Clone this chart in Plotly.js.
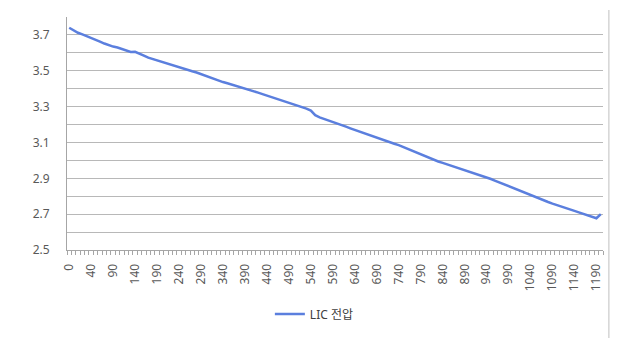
<!DOCTYPE html>
<html>
<head>
<meta charset="utf-8">
<script src="https://cdn.plot.ly/plotly-3.0.1.min.js"></script>
<style>html,body{margin:0;padding:0;background:#fff;}#chart{width:630px;height:338px;}</style>
</head>
<body>
<div id="chart"></div>
<script>
// Category tick labels (seconds), shown every 5th category
const tickLabels = ["0","40","90","140","190","240","290","340","390","440","490","540","590","640","690","740","790","840","890","940","990","1040","1090","1140","1190"];
// LIC voltage series (V), one value per category
const voltage = [
3.740,3.725,3.712,3.703,3.694,3.685,3.674,3.663,3.652,3.642,
3.635,3.630,3.622,3.612,3.605,3.606,3.597,3.585,3.573,3.565,
3.558,3.550,3.542,3.535,3.528,3.520,3.512,3.504,3.497,3.490,
3.481,3.470,3.460,3.452,3.445,3.437,3.430,3.423,3.416,3.410,
3.402,3.394,3.386,3.378,3.370,3.362,3.354,3.346,3.338,3.331,
3.324,3.316,3.307,3.298,3.289,3.278,3.252,3.240,3.232,3.224,
3.215,3.206,3.197,3.188,3.179,3.170,3.162,3.153,3.144,3.136,
3.127,3.118,3.109,3.100,3.093,3.085,3.075,3.064,3.053,3.042,
3.032,3.021,3.011,3.002,2.994,2.986,2.978,2.970,2.962,2.954,
2.947,2.940,2.932,2.924,2.915,2.906,2.896,2.886,2.876,2.866,
2.856,2.845,2.835,2.824,2.814,2.804,2.795,2.786,2.777,2.768,
2.759,2.750,2.741,2.733,2.726,2.718,2.710,2.701,2.692,2.684,
2.677,2.700];
const yTickVals = [2.5,2.6,2.7,2.8,2.9,3.0,3.1,3.2,3.3,3.4,3.5,3.6,3.7,3.8];
const yTickText = ["2.5","","2.7","","2.9","","3.1","","3.3","","3.5","","3.7",""];
const seriesName = "LIC 전압";

const xIdx = voltage.map((_, i) => i);
const labelEvery = 5;
const xTickVals = tickLabels.map((_, i) => i * labelEvery);

const trace = {
  x: xIdx, y: voltage, type: 'scatter', mode: 'lines', name: seriesName,
  line: {color: '#5b7fde', width: 2.5}
};
const font = "'Noto Sans', 'Noto Sans CJK KR', sans-serif";
const layout = {
  width: 630, height: 338,
  margin: {l: 67, r: 27, t: 17, b: 88},
  paper_bgcolor: '#fff', plot_bgcolor: '#fff',
  font: {family: font, size: 12, color: '#595959'},
  showlegend: true,
  legend: {orientation: 'h', xref: 'container', yref: 'container',
           x: 0.499, xanchor: 'center', y: 0.071, yanchor: 'middle',
           font: {family: font, size: 12, color: '#404040'}, itemwidth: 30},
  xaxis: {
    range: [-0.5, voltage.length - 0.5], showgrid: false, zeroline: false,
    automargin: false,
    tickmode: 'array', tickvals: xTickVals, ticktext: tickLabels, tickangle: -90,
    ticks: '', showline: true, linecolor: '#a6a6a6', linewidth: 1,
    ticklabelstandoff: 8,
    tickfont: {size: 12, color: '#595959'},
    minor: {tick0: -0.5, dtick: 1, ticks: 'outside', ticklen: 4, tickcolor: '#a6a6a6', tickwidth: 1, showgrid: false}
  },
  yaxis: {
    range: [2.5, 3.8], tickmode: 'array', tickvals: yTickVals, ticktext: yTickText,
    automargin: false,
    showgrid: true, gridcolor: '#b8b8b8', gridwidth: 1, zeroline: false,
    showline: true, linecolor: '#a6a6a6', linewidth: 1,
    ticks: '', ticklabelstandoff: 14, tickfont: {size: 12, color: '#595959'}
  },
  shapes: [
    {type: 'line', xref: 'paper', yref: 'paper', x0: 1.011, x1: 1.011, y0: -0.45, y1: 1.03,
     line: {color: '#bfbfbf', width: 1}}
  ]
};
Plotly.newPlot('chart', [trace], layout, {displayModeBar: false, staticPlot: true});
</script>
</body>
</html>
